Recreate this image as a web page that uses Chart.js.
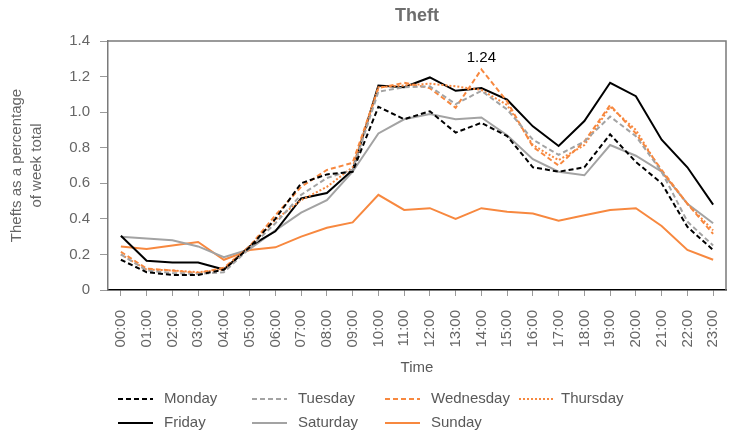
<!DOCTYPE html>
<html>
<head>
<meta charset="utf-8">
<script src="https://cdn.jsdelivr.net/npm/chart.js@4/dist/chart.umd.min.js"></script>
<style>
  html, body { margin: 0; padding: 0; background: #fff; }
  canvas { display: block; }
</style>
</head>
<body>
<canvas id="c" width="729" height="435"></canvas>
<script>
const hours = ["00:00","01:00","02:00","03:00","04:00","05:00","06:00","07:00","08:00","09:00","10:00","11:00",
               "12:00","13:00","14:00","15:00","16:00","17:00","18:00","19:00","20:00","21:00","22:00","23:00"];
const monday    = [0.17,0.10,0.085,0.085,0.115,0.24,0.40,0.60,0.65,0.665,1.03,0.96,1.005,0.885,0.94,0.865,0.69,0.665,0.69,0.875,0.72,0.60,0.355,0.225];
const tuesday   = [0.20,0.11,0.095,0.09,0.10,0.235,0.375,0.535,0.63,0.675,1.115,1.14,1.145,1.045,1.12,1.015,0.845,0.76,0.835,0.975,0.865,0.665,0.385,0.25];
const wednesday = [0.215,0.12,0.11,0.095,0.125,0.245,0.42,0.58,0.675,0.715,1.135,1.165,1.135,1.025,1.24,1.06,0.805,0.70,0.835,1.04,0.88,0.675,0.485,0.315];
const thursday  = [0.20,0.115,0.11,0.10,0.115,0.245,0.395,0.505,0.58,0.69,1.14,1.15,1.16,1.145,1.125,1.04,0.815,0.73,0.815,1.03,0.90,0.665,0.485,0.335];
const friday    = [0.305,0.165,0.155,0.155,0.115,0.245,0.33,0.515,0.545,0.675,1.15,1.14,1.195,1.12,1.135,1.07,0.92,0.81,0.95,1.165,1.09,0.845,0.69,0.48];
const saturday  = [0.30,0.29,0.28,0.245,0.185,0.23,0.335,0.435,0.505,0.665,0.88,0.96,0.99,0.96,0.97,0.87,0.735,0.665,0.645,0.815,0.755,0.665,0.485,0.375];
const sunday    = [0.245,0.23,0.25,0.27,0.17,0.225,0.24,0.30,0.35,0.38,0.535,0.45,0.46,0.40,0.46,0.44,0.43,0.39,0.42,0.45,0.46,0.36,0.225,0.17];
const dayNames  = ["Monday","Tuesday","Wednesday","Thursday","Friday","Saturday","Sunday"];
const annotation = { label: "1.24", dataset: 2, index: 14 };

const BLACK = "#000000", GREY = "#a3a3a3", ORANGE = "#f7883f";
const FONT = "'Liberation Sans', Arial, Helvetica, sans-serif";
Chart.defaults.font.family = FONT;

function ds(label, data, color, dash) {
  return { label, data, borderColor: color, backgroundColor: color, borderWidth: 2,
           borderDash: dash, pointRadius: 0, pointHoverRadius: 0, tension: 0, fill: false };
}

const datasets = [
  ds(dayNames[0], monday, BLACK, [5,3]),
  ds(dayNames[1], tuesday, GREY, [5,3]),
  ds(dayNames[2], wednesday, ORANGE, [5,3]),
  ds(dayNames[3], thursday, ORANGE, [2,2]),
  ds(dayNames[4], friday, BLACK, []),
  ds(dayNames[5], saturday, GREY, []),
  ds(dayNames[6], sunday, ORANGE, [])
];
datasets.forEach((d, i) => d.order = i);

const framePlugin = {
  id: 'frame',
  beforeDatasetsDraw(chart) {
    const { ctx, chartArea: a } = chart;
    ctx.save();
    ctx.strokeStyle = "#7a7a7a";
    ctx.lineWidth = 1.5;
    ctx.beginPath();
    ctx.moveTo(a.left, a.top);
    ctx.lineTo(a.right, a.top);
    ctx.lineTo(a.right, a.bottom);
    ctx.stroke();
    ctx.restore();
  },
  afterDraw(chart) {
    const { ctx, chartArea: a } = chart;
    ctx.save();
    ctx.fillStyle = "#6e6e6e";
    ctx.font = "bold 18px " + FONT;
    ctx.textAlign = "center";
    ctx.textBaseline = "middle";
    ctx.fillText("Theft", (a.left + a.right) / 2, 16);
    const meta = chart.getDatasetMeta(annotation.dataset);
    const pt = meta.data[annotation.index];
    ctx.fillStyle = "#000";
    ctx.font = "15px " + FONT;
    ctx.fillText(annotation.label, pt.x, pt.y - 12);
    const cols = [118, 252, 385, 519];
    const rows = [399, 423];
    ctx.font = "15px " + FONT;
    ctx.textAlign = "left";
    chart.data.datasets.forEach((d, i) => {
      const col = i < 4 ? i : i - 4;
      const row = i < 4 ? 0 : 1;
      const x = cols[col], y = rows[row];
      ctx.strokeStyle = d.borderColor;
      ctx.lineWidth = 2;
      ctx.setLineDash(d.borderDash || []);
      ctx.beginPath();
      ctx.moveTo(x, y);
      ctx.lineTo(x + 35, y);
      ctx.stroke();
      ctx.setLineDash([]);
      ctx.fillStyle = "#595959";
      ctx.fillText(d.label, x + (col === 3 ? 42 : 46), y);
    });
    ctx.restore();
  }
};

new Chart(document.getElementById('c'), {
  type: 'line',
  data: { labels: hours, datasets },
  options: {
    responsive: false,
    animation: false,
    devicePixelRatio: 1,
    layout: { padding: { top: 41, left: 0, right: 3, bottom: 58 } },
    plugins: { legend: { display: false }, title: { display: false }, tooltip: { enabled: false } },
    scales: {
      x: {
        offset: true,
        afterFit(s) { s.height = 87; s.paddingLeft = 0; s.paddingRight = 0; },
        grid: { offset: false, drawOnChartArea: false, tickLength: 6, color: "#9a9a9a", tickWidth: 1 },
        border: { color: "#000", width: 1.5 },
        ticks: { minRotation: 90, maxRotation: 90, autoSkip: false, padding: 14, color: "#666", font: { size: 15 } },
        title: { display: true, text: "Time", color: "#595959", font: { size: 15, lineHeight: 1.2 }, padding: { top: 0, bottom: 0 } }
      },
      y: {
        min: 0, max: 1.4,
        afterFit(s) { s.width = 108; s.paddingTop = 0; s.paddingBottom = 0; },
        grid: { drawOnChartArea: false, tickLength: 8, color: "#9a9a9a" },
        border: { color: "#7a7a7a", width: 1.5 },
        ticks: { stepSize: 0.2, padding: 10, color: "#666", font: { size: 15 },
                 callback: v => (Math.abs(v) < 1e-9 ? "0" : v.toFixed(1)) },
        title: { display: true, text: ["Thefts as a percentage", "of week total"], color: "#666",
                 font: { size: 15, lineHeight: 1.33 }, padding: { top: 7, bottom: 0 } }
      }
    }
  },
  plugins: [framePlugin]
});
</script>
</body>
</html>
